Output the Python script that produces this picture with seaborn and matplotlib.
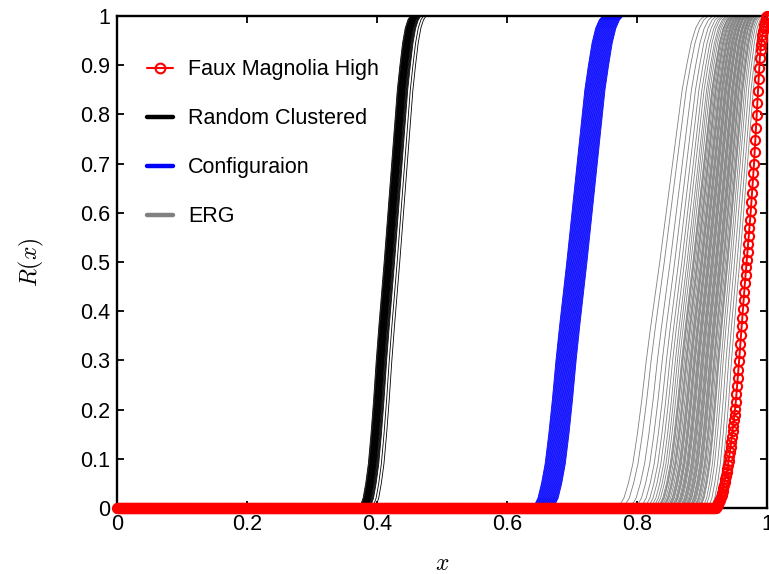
import numpy as np
import pandas as pd
import matplotlib
matplotlib.use("Agg")
import matplotlib.pyplot as plt
from matplotlib.lines import Line2D
import seaborn as sns

# ---- data -------------------------------------------------------------
# Shared S-shaped reliability profile: R at normalised offsets u (centre 0, span 1)
profile_u = [-0.50, -0.45, -0.40, -0.35, -0.30, -0.25, -0.20, -0.15, -0.10, -0.05,
             0.00, 0.05, 0.10, 0.15, 0.20, 0.25, 0.30, 0.35, 0.40, 0.45, 0.50]
profile_r = [0.000, 0.005, 0.020, 0.050, 0.090, 0.150, 0.220, 0.300, 0.370, 0.435,
             0.500, 0.570, 0.640, 0.710, 0.780, 0.850, 0.900, 0.945, 0.975, 0.992, 1.000]

# Random Clustered ensemble: x where R = 0.5, common transition span
clustered_mid = [0.411, 0.412, 0.413, 0.4135, 0.414, 0.4145, 0.415, 0.4155, 0.416,
                 0.4165, 0.417, 0.4175, 0.418, 0.4185, 0.419, 0.4195, 0.420, 0.4205,
                 0.421, 0.4215, 0.422, 0.4225, 0.423, 0.424, 0.425, 0.426, 0.427,
                 0.431, 0.435]
clustered_span = 0.081

# Configuration-model ensemble
config_mid = [0.692, 0.693, 0.694, 0.695, 0.696, 0.697, 0.698, 0.699, 0.700, 0.701,
              0.702, 0.703, 0.704, 0.705, 0.706, 0.707, 0.708, 0.709, 0.710, 0.711,
              0.712, 0.713, 0.714, 0.715, 0.716, 0.717, 0.718, 0.719, 0.720, 0.721,
              0.722, 0.723]
config_span = 0.111

# ERG ensemble: x where R = 0.5 and transition span of each curve
erg_mid = [0.835, 0.842, 0.851, 0.858, 0.864, 0.869, 0.873, 0.877, 0.880, 0.883,
           0.886, 0.887, 0.888, 0.890, 0.892, 0.893, 0.894, 0.896, 0.898, 0.899,
           0.900, 0.901, 0.903, 0.904, 0.905, 0.906, 0.908, 0.909, 0.910, 0.911,
           0.912, 0.914, 0.915, 0.916, 0.917, 0.918, 0.920, 0.921, 0.922, 0.923,
           0.924, 0.926, 0.927, 0.928, 0.929, 0.930, 0.932, 0.933, 0.934, 0.936,
           0.938, 0.939, 0.940, 0.943, 0.946, 0.950, 0.954, 0.958]
erg_span = [0.138, 0.135, 0.131, 0.128, 0.125, 0.123, 0.121, 0.120, 0.118, 0.117,
            0.116, 0.115, 0.115, 0.114, 0.113, 0.113, 0.112, 0.111, 0.110, 0.110,
            0.109, 0.109, 0.108, 0.107, 0.107, 0.107, 0.106, 0.105, 0.105, 0.105,
            0.104, 0.103, 0.103, 0.102, 0.102, 0.101, 0.101, 0.100, 0.100, 0.099,
            0.099, 0.098, 0.098, 0.097, 0.097, 0.096, 0.095, 0.095, 0.094, 0.094,
            0.093, 0.092, 0.092, 0.090, 0.089, 0.087, 0.086, 0.084]

# Faux Magnolia High: R(x) sampled every 0.001; zero below x = 0.920
magnolia_rise = [0.000, 0.001, 0.002, 0.004, 0.007, 0.010, 0.013, 0.016, 0.019, 0.022,
                 0.026, 0.030, 0.035, 0.041, 0.047, 0.053, 0.059, 0.066, 0.073, 0.080,
                 0.088, 0.096, 0.105, 0.114, 0.124, 0.134, 0.145, 0.156, 0.167, 0.178,
                 0.190, 0.202, 0.216, 0.232, 0.248, 0.264, 0.281, 0.298, 0.315, 0.333,
                 0.351, 0.369, 0.387, 0.405, 0.423, 0.440, 0.457, 0.473, 0.489, 0.505,
                 0.521, 0.537, 0.553, 0.569, 0.586, 0.603, 0.621, 0.640, 0.660, 0.680,
                 0.700, 0.724, 0.748, 0.773, 0.798, 0.823, 0.848, 0.872, 0.895, 0.915,
                 0.930, 0.942, 0.952, 0.961, 0.969, 0.976, 0.982, 0.988, 0.993, 0.997,
                 1.000]
magnolia_x = np.arange(1001) / 1000.0
magnolia_r = np.concatenate([np.zeros(1001 - len(magnolia_rise)), magnolia_rise])

x_ticks = [0, 0.2, 0.4, 0.6, 0.8, 1]
x_tick_labels = ["0", "0.2", "0.4", "0.6", "0.8", "1"]
y_ticks = [0, 0.1, 0.2, 0.3, 0.4, 0.5, 0.6, 0.7, 0.8, 0.9, 1]
y_tick_labels = ["0", "0.1", "0.2", "0.3", "0.4", "0.5", "0.6", "0.7", "0.8", "0.9", "1"]

labels = ["Faux Magnolia High", "Random Clustered", "Configuraion", "ERG"]


def ensemble_frame(mids, spans):
    """Long-form table of shifted/scaled profiles, one unit per curve."""
    rows = []
    pu = np.asarray(profile_u)
    for k, (m, s) in enumerate(zip(mids, spans)):
        xs = m + pu * s
        keep = xs <= 1.0
        xs = np.concatenate([[0.0], xs[keep], [1.0]])
        rs = np.concatenate([[0.0], np.asarray(profile_r)[keep], [1.0]])
        rows.append(pd.DataFrame({"x": xs, "R": rs, "curve": k}))
    return pd.concat(rows, ignore_index=True)


clustered_df = ensemble_frame(clustered_mid, [clustered_span] * len(clustered_mid))
config_df = ensemble_frame(config_mid, [config_span] * len(config_mid))
erg_df = ensemble_frame(erg_mid, erg_span)
magnolia_df = pd.DataFrame({"x": magnolia_x, "R": magnolia_r})

# ---- style ------------------------------------------------------------
sns.set_style("ticks")
plt.rcParams["font.family"] = ["Liberation Sans", "DejaVu Sans"]
plt.rcParams["mathtext.fontset"] = "cm"
plt.rcParams["text.color"] = "black"
plt.rcParams["axes.labelcolor"] = "black"

fig = plt.figure(figsize=(7.69, 5.74), dpi=100)
ax = fig.add_axes([117 / 769, 1 - 508 / 574, 650 / 769, 492 / 574])

lw_thin = 0.6
sns.lineplot(data=erg_df, x="x", y="R", units="curve", estimator=None,
             color=(0.5, 0.5, 0.5), lw=lw_thin, ax=ax, legend=False)
sns.lineplot(data=config_df, x="x", y="R", units="curve", estimator=None,
             color=(0, 0, 1), lw=lw_thin, ax=ax, legend=False)
sns.lineplot(data=clustered_df, x="x", y="R", units="curve", estimator=None,
             color=(0, 0, 0), lw=lw_thin, ax=ax, legend=False)
sns.lineplot(data=magnolia_df, x="x", y="R", estimator=None, color=(1, 0, 0),
             lw=1.4, marker="o", markersize=6.6, markerfacecolor="none",
             markeredgecolor=(1, 0, 0), markeredgewidth=1.5, clip_on=False,
             zorder=5, ax=ax, legend=False)

ax.set_xlim(0, 1)
ax.set_ylim(0, 1)
ax.set_xticks(x_ticks, x_tick_labels)
ax.set_yticks(y_ticks, y_tick_labels)
ax.tick_params(axis="both", direction="in", length=5, width=1.3,
               top=True, right=True, labelsize=15.5, colors="black")
ax.tick_params(axis="x", pad=4)
ax.tick_params(axis="y", pad=5)
for sp in ax.spines.values():
    sp.set_linewidth(1.7)
    sp.set_color("black")
    sp.set_visible(True)

ax.set_xlabel("$x$", fontsize=17)
ax.set_ylabel("$R(x)$", fontsize=17)
ax.xaxis.set_label_coords(0.5, -0.092)
ax.yaxis.set_label_coords(-0.109, 0.5)

handles = [
    Line2D([], [], color=(1, 0, 0), lw=1.5, marker="o", markersize=7,
           markerfacecolor="none", markeredgewidth=1.5),
    Line2D([], [], color=(0, 0, 0), lw=3.2),
    Line2D([], [], color=(0, 0, 1), lw=3.2),
    Line2D([], [], color=(0.5, 0.5, 0.5), lw=3.2),
]
ax.legend(handles, labels, loc="upper left", bbox_to_anchor=(0.046, 0.912),
          frameon=False, fontsize=15.5, handlelength=1.2, handletextpad=0.7,
          labelspacing=1.3, borderpad=0, borderaxespad=0, numpoints=1)

fig.savefig("out.png", dpi=100)
